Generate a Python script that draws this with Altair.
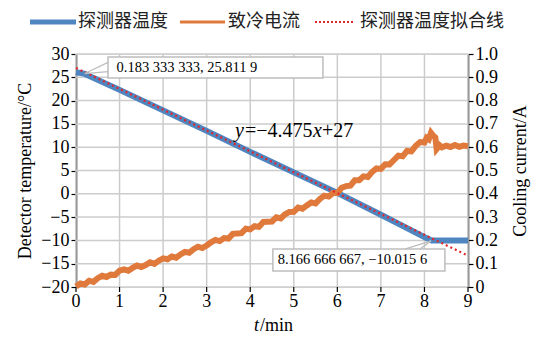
import altair as alt
import pandas as pd

# ---- data ----
time_temp = [0.0, 0.1833, 1.0, 2.0, 3.0, 4.0, 5.0, 6.0, 7.0, 7.5, 8.0, 8.1667, 8.25, 9.0]
temperature = [26.1, 25.81, 22.3, 17.9, 13.5, 9.0, 4.6, 0.2, -4.5, -6.9, -9.3, -10.0156, -10.0, -10.0]

time_fit = [0.0, 9.0]
temp_fit = [27.0, -13.275]

time_cur = [0.0, 0.1, 0.2, 0.3, 0.4, 0.5, 0.6, 0.7, 0.8, 0.9,
            1.0, 1.1, 1.2, 1.3, 1.4, 1.5, 1.6, 1.7, 1.8, 1.9,
            2.0, 2.1, 2.2, 2.3, 2.4, 2.5, 2.6, 2.7, 2.8, 2.9,
            3.0, 3.1, 3.2, 3.3, 3.4, 3.5, 3.6, 3.7, 3.8, 3.9,
            4.0, 4.1, 4.2, 4.3, 4.4, 4.5, 4.6, 4.7, 4.8, 4.9,
            5.0, 5.1, 5.2, 5.3, 5.4, 5.5, 5.6, 5.7, 5.8, 5.9,
            6.0, 6.1, 6.2, 6.3, 6.4, 6.5, 6.6, 6.7, 6.8, 6.9,
            7.0, 7.1, 7.2, 7.3, 7.4, 7.5, 7.6, 7.7, 7.8, 7.9,
            8.0, 8.05, 8.1, 8.15, 8.2, 8.25, 8.28, 8.35, 8.4, 8.5,
            8.6, 8.7, 8.8, 8.9, 9.0]
current = [0.002, 0.015, 0.011, 0.027, 0.022, 0.038, 0.048, 0.043, 0.053, 0.052,
           0.070, 0.076, 0.070, 0.082, 0.092, 0.086, 0.094, 0.106, 0.099, 0.113,
           0.123, 0.119, 0.131, 0.126, 0.140, 0.151, 0.147, 0.162, 0.173, 0.167,
           0.178, 0.192, 0.202, 0.197, 0.210, 0.208, 0.228, 0.230, 0.231, 0.250,
           0.247, 0.261, 0.258, 0.279, 0.280, 0.281, 0.299, 0.294, 0.312, 0.322,
           0.323, 0.341, 0.336, 0.350, 0.363, 0.359, 0.378, 0.392, 0.388, 0.403,
           0.403, 0.426, 0.433, 0.435, 0.458, 0.458, 0.475, 0.472, 0.494, 0.509,
           0.507, 0.527, 0.526, 0.545, 0.564, 0.561, 0.584, 0.582, 0.606, 0.622,
           0.620, 0.640, 0.634, 0.662, 0.650, 0.642, 0.592, 0.608, 0.600, 0.607,
           0.601, 0.609, 0.602, 0.607, 0.604]

temp_ticks = [-20, -15, -10, -5, 0, 5, 10, 15, 20, 25, 30]
cur_ticks = [0.0, 0.1, 0.2, 0.3, 0.4, 0.5, 0.6, 0.7, 0.8, 0.9, 1.0]
time_ticks = [0, 1, 2, 3, 4, 5, 6, 7, 8, 9]

legend_labels = ["探测器温度", "致冷电流", "探测器温度拟合线"]
label1 = "0.183 333 333, 25.811 9"
label2 = "8.166 666 667, \u221210.015 6"

W, H = 392, 233
BLUE = "#4f86c0"
ORANGE = "#e07a3c"
RED = "#e3262b"
GRAY = "#bdbdbd"
GRID = "#cccccc"
SERIF = "Liberation Serif"
CJK = "Noto Sans CJK SC"

df_temp = pd.DataFrame({"t": time_temp, "temp": temperature})
df_fit = pd.DataFrame({"t": time_fit, "temp": temp_fit})
df_cur = pd.DataFrame({"t": time_cur, "cur": current})
df_vt = pd.DataFrame({"t": [float(v) for v in time_ticks]})
df_ht = pd.DataFrame({"temp": [float(v) for v in temp_ticks]})

X_MIN, X_MAX = float(time_ticks[0]), float(time_ticks[-1])
Y_MIN, Y_MAX = float(temp_ticks[0]), float(temp_ticks[-1])
TICK_LEN = (Y_MAX - Y_MIN) * 5 / H  # 5 px in temperature units

x_scale = alt.Scale(domain=[X_MIN, X_MAX], nice=False)
y_scale = alt.Scale(domain=[Y_MIN, Y_MAX], nice=False)
c_scale = alt.Scale(domain=[0, 1], nice=False)

one = pd.DataFrame({"a": [0]})

axis_common = dict(labelFont=SERIF, labelFontSize=18, labelColor="black",
                   domainColor="black", domainWidth=1.5,
                   tickColor="black", tickSize=5, tickWidth=1.2, labelPadding=2,
                   titleFont=SERIF, titleFontSize=18, titleFontWeight="normal",
                   titleColor="black")


def X(v):
    return alt.X(datum=v, type="quantitative", scale=x_scale, axis=None)


def Y(v):
    return alt.Y(datum=v, type="quantitative", scale=y_scale, axis=None)


def X2(v):
    return alt.X2(datum=v)


def Y2(v):
    return alt.Y2(datum=v)


# grid as filled tick marks (thin rectangles) placed from the tick arrays
vgrid = alt.Chart(df_vt).mark_tick(orient="vertical", size=H, thickness=1.5,
                                   color=GRID, opacity=1).encode(
    x=alt.X("t:Q", scale=x_scale, axis=None),
    y=Y((Y_MIN + Y_MAX) / 2))
hgrid = alt.Chart(df_ht).mark_tick(orient="horizontal", size=W, thickness=1.5,
                                   color=GRID, opacity=1).encode(
    y=alt.Y("temp:Q", scale=y_scale, axis=None),
    x=X((X_MIN + X_MAX) / 2))
xticks = alt.Chart(df_vt).mark_tick(orient="vertical", size=5, thickness=1.2,
                                    color="black", opacity=1).encode(
    x=alt.X("t:Q", scale=x_scale, axis=None),
    y=Y(Y_MIN - TICK_LEN / 2))
xlabels = alt.Chart(df_vt).mark_text(font=SERIF, fontSize=18, baseline="top", color="black").encode(
    x=alt.X("t:Q", scale=x_scale, axis=None), y=alt.value(H + 6), text=alt.Text("t:Q", format="d"))

temp_line = alt.Chart(df_temp).mark_line(color=BLUE, strokeWidth=6).encode(
    x=alt.X("t:Q", scale=x_scale, axis=None),
    y=alt.Y("temp:Q", scale=y_scale,
            axis=alt.Axis(values=temp_ticks, title="Detector temperature/°C", orient="left",
                          grid=False, titlePadding=6, **axis_common)),
)

cur_line = alt.Chart(df_cur).mark_line(color=ORANGE, strokeWidth=6).encode(
    x=alt.X("t:Q", scale=x_scale, axis=None),
    y=alt.Y("cur:Q", scale=c_scale,
            axis=alt.Axis(orient="right", values=cur_ticks,
                          labelExpr="datum.value == 0 ? '0' : format(datum.value, '.1f')",
                          title="Cooling current/A", titleAngle=270, titleBaseline="top",
                          grid=False, titlePadding=14, **axis_common)),
)

fit_line = alt.Chart(df_fit).mark_line(color=RED, strokeWidth=2.2, strokeDash=[2, 3]).encode(
    x=alt.X("t:Q", scale=x_scale, axis=None),
    y=alt.Y("temp:Q", scale=y_scale, axis=None),
)

# callout 1
box1 = alt.Chart(one).mark_rect(fill="white", stroke=GRAY, strokeWidth=1.5).encode(
    x=X(0.735), x2=X2(5.67), y=Y(29.36), y2=Y2(24.85))
wedge1a = alt.Chart(one).mark_rule(color=GRAY, strokeWidth=1.3).encode(
    x=X(0.2), x2=X2(0.735), y=Y(25.81), y2=Y2(28.2))
wedge1b = alt.Chart(one).mark_rule(color=GRAY, strokeWidth=1.3).encode(
    x=X(0.2), x2=X2(0.735), y=Y(25.81), y2=Y2(26.2))
text1 = alt.Chart(one).mark_text(font=SERIF, fontSize=14.5, align="left", baseline="middle",
                                 color="black").encode(
    x=X(0.93), y=Y(27.1), text=alt.value(label1))

# callout 2
box2 = alt.Chart(one).mark_rect(fill="white", stroke=GRAY, strokeWidth=1.5).encode(
    x=X(4.52), x2=X2(8.47), y=Y(-11.85), y2=Y2(-16.57))
wedge2a = alt.Chart(one).mark_rule(color=GRAY, strokeWidth=1.3).encode(
    x=X(7.55), x2=X2(8.15), y=Y(-11.85), y2=Y2(-10.1))
wedge2b = alt.Chart(one).mark_rule(color=GRAY, strokeWidth=1.3).encode(
    x=X(7.9), x2=X2(8.15), y=Y(-11.85), y2=Y2(-10.1))
text2 = alt.Chart(one).mark_text(font=SERIF, fontSize=14.5, align="left", baseline="middle",
                                 color="black").encode(
    x=X(4.63), y=Y(-14.2), text=alt.value(label2))

# equation
eq_parts = [("y", "italic", 0), ("=\u22124.475", "normal", 10), ("x", "italic", 78), ("+27", "normal", 87)]
eq_layers = []
for txt, style, dx in eq_parts:
    eq_layers.append(alt.Chart(one).mark_text(font=SERIF, fontSize=20, fontStyle=style, align="left",
                                              baseline="middle", color="black", dx=dx).encode(
        x=X(3.65), y=Y(13.5), text=alt.value(txt)))

# legend (drawn in pixel space above the plot)
LY = -32
leg = []
leg.append(alt.Chart(one).mark_rule(color=BLUE, strokeWidth=5).encode(
    x=alt.value(-46), x2=alt.value(0), y=alt.value(LY)))
leg.append(alt.Chart(one).mark_rule(color=ORANGE, strokeWidth=3).encode(
    x=alt.value(104), x2=alt.value(149), y=alt.value(LY)))
leg.append(alt.Chart(one).mark_rule(color=RED, strokeWidth=2.2, strokeDash=[2, 2]).encode(
    x=alt.value(239), x2=alt.value(279), y=alt.value(LY)))
for lab, px in zip(legend_labels, [2, 152, 284]):
    leg.append(alt.Chart(one).mark_text(font=CJK, fontSize=18, align="left", baseline="middle",
                                        color="#222222").encode(
        x=alt.value(px), y=alt.value(LY), text=alt.value(lab)))

# x-axis title "t/min"
xt = [
    alt.Chart(one).mark_text(font=SERIF, fontSize=18, fontStyle="italic", align="left",
                             baseline="middle", color="black").encode(
        x=alt.value(178), y=alt.value(272), text=alt.value("t")),
    alt.Chart(one).mark_text(font=SERIF, fontSize=18, align="left",
                             baseline="middle", color="black").encode(
        x=alt.value(184), y=alt.value(272), text=alt.value("/min")),
]

chart = alt.layer(
    vgrid, hgrid, xticks, xlabels,
    temp_line, cur_line, fit_line,
    box1, wedge1a, wedge1b, text1, box2, wedge2a, wedge2b, text2,
    *eq_layers, *leg, *xt,
).resolve_scale(y="independent").properties(
    width=W, height=H,
    padding={"left": 68, "top": 46, "right": 70, "bottom": 46},
    autosize=alt.AutoSizeParams(type="none"),
).configure_view(stroke="black", strokeWidth=1.5).configure(background="white")

chart.save("out.html", embed_options={"renderer": "svg", "actions": False})
